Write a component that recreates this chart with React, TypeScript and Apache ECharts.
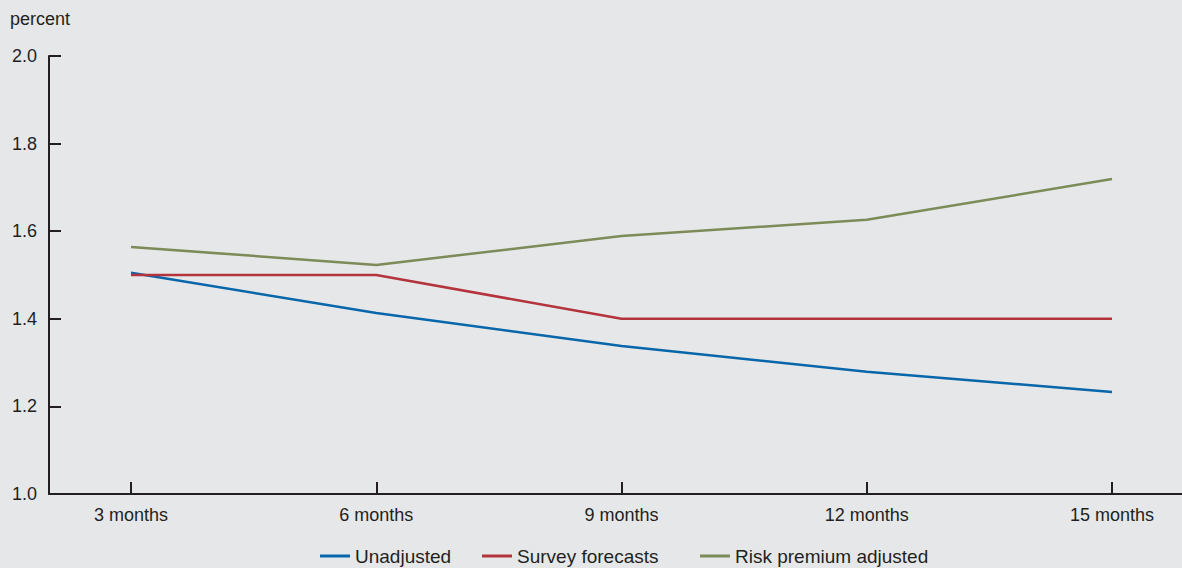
import React, { useEffect, useRef } from "react";
import * as echarts from "echarts";

const categories = ["3 months", "6 months", "9 months", "12 months", "15 months"];
const unadjusted = [1.505, 1.413, 1.338, 1.279, 1.233];
const surveyForecasts = [1.5, 1.5, 1.4, 1.4, 1.4];
const riskPremiumAdjusted = [1.564, 1.523, 1.589, 1.626, 1.719];
const yTicks = [1.0, 1.2, 1.4, 1.6, 1.8, 2.0];

const FONT = "Liberation Sans, Arial, Helvetica, sans-serif";
const TXT = "#231f20";

export default function App() {
  const ref = useRef<HTMLDivElement>(null);
  useEffect(() => {
    document.body.style.margin = "0";
    if (!ref.current) return;
    const chart = echarts.init(ref.current, undefined, { renderer: "svg" });
    const toPts = (arr: number[]) => arr.map((v, i) => [i, v]);
    const mkLegend = (name: string, left: number) => ({
      data: [name],
      left,
      top: 546,
      padding: 0,
      itemWidth: 30,
      itemHeight: 3,
      itemGap: 6,
      icon: "rect",
      textStyle: { fontFamily: FONT, fontSize: 19, lineHeight: 20, color: TXT, padding: [0, 0, 0, 0] },
    });
    chart.setOption({
      animation: false,
      backgroundColor: "#e6e7e9",
      textStyle: { fontFamily: FONT },
      grid: { left: 49, right: 0, top: 56, bottom: 74, containLabel: false },
      graphic: [
        {
          type: "text",
          left: 10,
          top: 10,
          style: { text: "percent", fontFamily: FONT, fontSize: 18, fill: TXT },
        },
      ],
      legend: [
        mkLegend("Unadjusted", 320),
        mkLegend("Survey forecasts", 482),
        mkLegend("Risk premium adjusted", 700),
      ],
      xAxis: {
        type: "value",
        min: -0.3344,
        max: 4.2854,
        splitLine: { show: false },
        axisLine: { show: true, onZero: false, lineStyle: { color: TXT, width: 2 } },
        axisTick: {
          show: true,
          inside: true,
          length: 12,
          customValues: [0, 1, 2, 3, 4],
          lineStyle: { color: TXT, width: 2 },
        },
        axisLabel: {
          show: true,
          customValues: [0, 1, 2, 3, 4],
          margin: 12,
          fontSize: 18,
          fontFamily: FONT,
          color: TXT,
          formatter: (v: number) => categories[Math.round(v)] ?? "",
        },
      },
      yAxis: {
        type: "value",
        min: 1.0,
        max: 2.0,
        interval: 0.2,
        splitLine: { show: false },
        axisLine: { show: true, onZero: false, lineStyle: { color: TXT, width: 2 } },
        axisTick: { show: true, inside: true, length: 12, lineStyle: { color: TXT, width: 2 } },
        axisLabel: {
          margin: 12,
          fontSize: 18,
          fontFamily: FONT,
          color: TXT,
          formatter: (v: number) => {
            const t = yTicks.find((x) => Math.abs(x - v) < 1e-6);
            return (t ?? v).toFixed(1);
          },
        },
      },
      series: [
        {
          name: "Unadjusted",
          type: "line",
          data: toPts(unadjusted),
          symbol: "none",
          color: "#0866aa",
          lineStyle: { width: 2.5, color: "#0866aa" },
        },
        {
          name: "Survey forecasts",
          type: "line",
          data: toPts(surveyForecasts),
          symbol: "none",
          color: "#b3343c",
          lineStyle: { width: 2.5, color: "#b3343c" },
        },
        {
          name: "Risk premium adjusted",
          type: "line",
          data: toPts(riskPremiumAdjusted),
          symbol: "none",
          color: "#7c8b58",
          lineStyle: { width: 2.5, color: "#7c8b58" },
        },
      ],
    });
    return () => chart.dispose();
  }, []);
  return <div ref={ref} style={{ width: 1182, height: 568 }} />;
}
